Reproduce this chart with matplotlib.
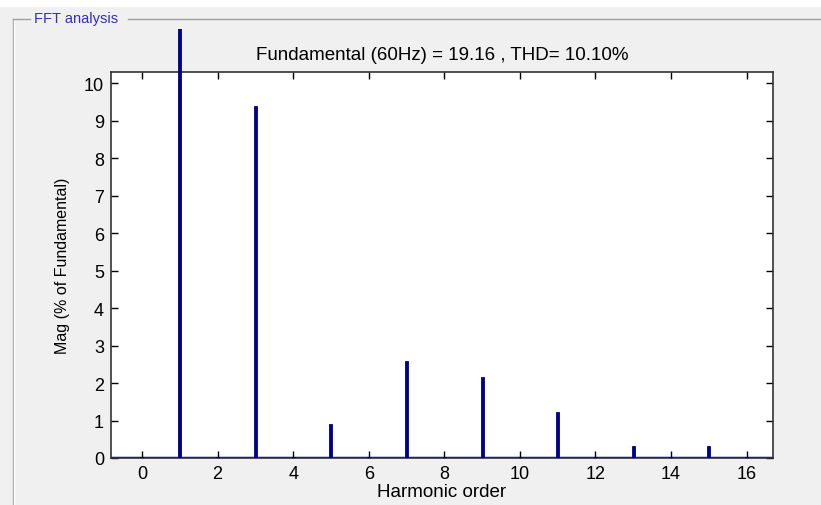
import matplotlib.pyplot as plt
from matplotlib.patches import Rectangle
from matplotlib.lines import Line2D

# Harmonic spectrum (% of fundamental)
harmonics = [0, 1, 2, 3, 4, 5, 6, 7, 8, 9, 10, 11, 12, 13, 14, 15, 16]
magnitude = [0.02, 100, 0.03, 9.38, 0.03, 0.9, 0.02, 2.58, 0.02, 2.15, 0.02, 1.22, 0.02, 0.32, 0.02, 0.32, 0.02]
x_ticks = [0, 2, 4, 6, 8, 10, 12, 14, 16]
y_ticks = [0, 1, 2, 3, 4, 5, 6, 7, 8, 9, 10]
title = 'Fundamental (60Hz) = 19.16 , THD= 10.10%'

plt.rcParams['font.family'] = ['Liberation Sans', 'DejaVu Sans']

fig = plt.figure(figsize=(8.21, 5.06), dpi=100)
fig.patch.set_facecolor('#f0f0f0')

# white strip at top + panel frame
fig.add_artist(Rectangle((0, 1 - 8 / 506), 1, 8 / 506, transform=fig.transFigure,
                         facecolor='white', edgecolor='none'))
fy = 1 - 20 / 506
fx = 13 / 821
fig.add_artist(Line2D([fx, fx], [0, fy], transform=fig.transFigure, color='#a0a0a0', lw=1))
fig.add_artist(Line2D([fx + 1.2 / 821] * 2, [0, fy - 1 / 506], transform=fig.transFigure, color='white', lw=1))
fig.add_artist(Line2D([fx, 30 / 821], [fy, fy], transform=fig.transFigure, color='#a0a0a0', lw=1))
fig.add_artist(Line2D([128 / 821, 1], [fy, fy], transform=fig.transFigure, color='#a0a0a0', lw=1))
fig.text(34 / 821, fy + 1 / 506, 'FFT analysis', color='#3030c0', fontsize=10.5, va='center', ha='left')

ax = fig.add_axes([111 / 821, 47 / 506, 662 / 821, 386 / 506])
ax.set_facecolor('white')

bars = ax.bar(harmonics, magnitude, width=0.08, color='#00008b', edgecolor='#00008b', linewidth=0.6, zorder=3)
# bars are allowed to run past the top of the axes, up to the panel frame
clip = Rectangle((0, 0), 1, 1.111, transform=ax.transAxes, facecolor='none', edgecolor='none')
for b in bars:
    b.set_clip_path(clip)

# baseline (solid with dotted stretches, as rendered in the original)
ax.axhline(0, color='#00008b', lw=2.5, zorder=2)
for seg in [(1, 3), (5, 7), (8, 10), (12, 13), (15, 16.7)]:
    ax.plot(seg, [0.012, 0.012], color='white', lw=0.7, ls=(0, (2, 2)), zorder=2.5)

ax.set_xlim(-0.82, 16.7)
ax.set_ylim(0, 10.3)
ax.set_xticks(x_ticks)
ax.set_yticks(y_ticks)
ax.tick_params(direction='in', top=True, right=True, length=5, width=1, labelsize=13, colors='black', pad=5)
for s in ax.spines.values():
    s.set_color('#333333')
    s.set_linewidth(1.2)

ax.set_title(title, fontsize=13.5, pad=9)
ax.set_xlabel('Harmonic order', fontsize=13.5, labelpad=1)
ax.set_ylabel('Mag (% of Fundamental)', fontsize=11.5, labelpad=10)

fig.savefig('out.png', dpi=100, facecolor=fig.get_facecolor())
